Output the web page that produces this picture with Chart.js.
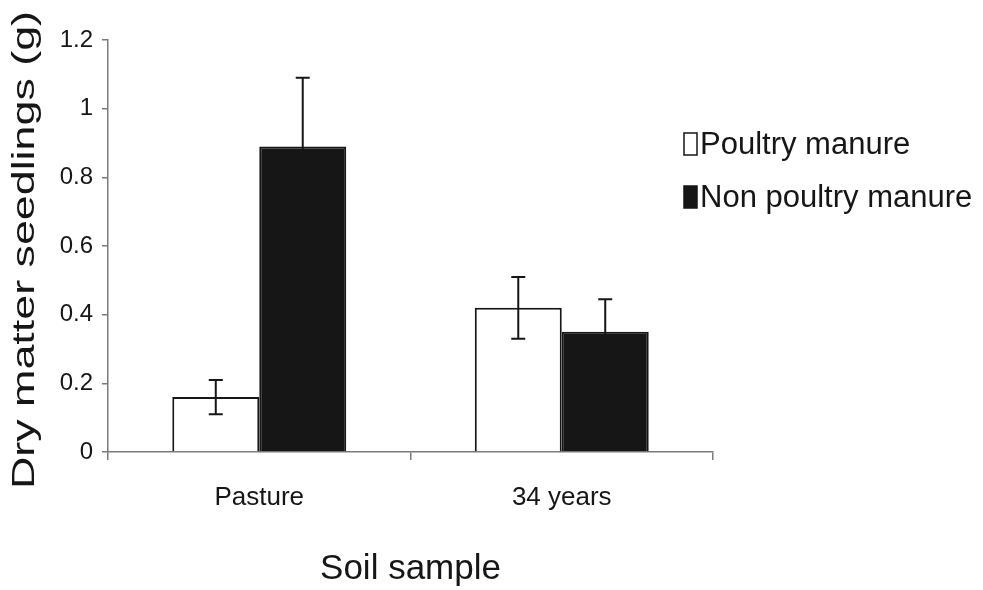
<!DOCTYPE html>
<html>
<head>
<meta charset="utf-8">
<script src="https://cdn.jsdelivr.net/npm/chart.js@4/dist/chart.umd.min.js"></script>
<style>
  html, body { margin: 0; padding: 0; background: #fff; }
  #wrap { width: 983px; height: 590px; }
</style>
</head>
<body>
<div id="wrap"><canvas id="chart" width="983" height="590"></canvas></div>
<script>
const categories = ['Pasture', '34 years']
const seriesNames = ['Poultry manure', 'Non poultry manure']
const poultry = [0.16, 0.42]
const nonPoultry = [0.89, 0.35]
const poultryErr = [0.05, 0.09]
const nonPoultryErr = [0.2, 0.095]
const yTicks = [0, 0.2, 0.4, 0.6, 0.8, 1, 1.2]
const yTitle = 'Dry matter seedlings (g)'
const xTitle = 'Soil sample'

const ink = '#161616'
const axisGrey = '#7a7a7a'
const errors = [poultryErr, nonPoultryErr]

// error bars: vertical stem with a short cap at each end
const errorBars = {
  id: 'errorBars',
  afterDatasetsDraw (chart) {
    const ctx = chart.ctx
    const y = chart.scales.y
    ctx.save()
    ctx.strokeStyle = ink
    ctx.lineWidth = 2
    chart.data.datasets.forEach((ds, i) => {
      chart.getDatasetMeta(i).data.forEach((bar, j) => {
        const v = ds.data[j]
        const e = errors[i][j]
        const top = y.getPixelForValue(v + e)
        const bottom = y.getPixelForValue(v - e)
        ctx.beginPath()
        ctx.moveTo(bar.x, top)
        ctx.lineTo(bar.x, bottom)
        ctx.moveTo(bar.x - 7, top)
        ctx.lineTo(bar.x + 7, top)
        ctx.moveTo(bar.x - 7, bottom)
        ctx.lineTo(bar.x + 7, bottom)
        ctx.stroke()
      })
    })
    ctx.restore()
  }
}

// rotated, slightly stretched y title and the boxed legend on the right
const extras = {
  id: 'extras',
  afterDraw (chart) {
    const ctx = chart.ctx
    const area = chart.chartArea
    ctx.save()
    ctx.fillStyle = ink
    ctx.font = '32px "Liberation Sans", Arial, sans-serif'
    ctx.textAlign = 'center'
    ctx.textBaseline = 'alphabetic'
    ctx.translate(34, 250)
    ctx.rotate(-Math.PI / 2)
    ctx.scale(1.4, 1)
    ctx.fillText(yTitle, 0, 0)
    ctx.restore()

    ctx.save()
    ctx.font = '31px "Liberation Sans", Arial, sans-serif'
    ctx.textBaseline = 'middle'
    ctx.textAlign = 'left'
    const rows = [144, 197]
    chart.data.datasets.forEach((ds, i) => {
      const cy = rows[i]
      ctx.fillStyle = ds.backgroundColor
      ctx.fillRect(684, cy - 11, 13, 22)
      ctx.strokeStyle = ink
      ctx.lineWidth = 1.5
      ctx.strokeRect(684, cy - 11, 13, 22)
      ctx.fillStyle = ink
      ctx.fillText(ds.label, 700, cy + 1)
    })
    ctx.restore()
  }
}

new Chart(document.getElementById('chart'), {
  type: 'bar',
  data: {
    labels: categories,
    datasets: [
      {
        label: seriesNames[0],
        data: poultry,
        backgroundColor: '#ffffff',
        borderColor: ink,
        borderWidth: 2
      },
      {
        label: seriesNames[1],
        data: nonPoultry,
        backgroundColor: ink,
        borderColor: ink,
        borderWidth: 2
      }
    ]
  },
  options: {
    responsive: false,
    animation: false,
    layout: { padding: { left: 0, top: 40, right: 270, bottom: 0 } },
    datasets: {
      bar: { categoryPercentage: 0.575, barPercentage: 1.0 }
    },
    plugins: {
      legend: { display: false },
      tooltip: { enabled: false }
    },
    scales: {
      x: {
        afterFit: (s) => { s.height = 138 },
        border: { display: true, color: axisGrey, width: 1.5 },
        grid: {
          display: true,
          drawOnChartArea: false,
          tickLength: 8,
          color: axisGrey,
          lineWidth: 1.5,
          offset: true
        },
        ticks: {
          color: ink,
          padding: 22,
          font: { family: '"Liberation Sans", Arial, sans-serif', size: 26 }
        },
        title: {
          display: true,
          text: xTitle,
          color: ink,
          padding: { top: 30, bottom: 0 },
          font: { family: '"Liberation Sans", Arial, sans-serif', size: 35 }
        }
      },
      y: {
        min: 0,
        max: 1.2,
        afterFit: (s) => { s.width = 108 },
        afterBuildTicks: (s) => { s.ticks = yTicks.map(v => ({ value: v })) },
        border: { display: true, color: axisGrey, width: 1.5 },
        grid: {
          display: true,
          drawOnChartArea: false,
          tickLength: 6,
          color: axisGrey,
          lineWidth: 1.5
        },
        ticks: {
          color: ink,
          padding: 9,
          font: { family: '"Liberation Sans", Arial, sans-serif', size: 24 },
          callback: (v) => String(v)
        }
      }
    }
  },
  plugins: [errorBars, extras]
})
</script>
</body>
</html>
